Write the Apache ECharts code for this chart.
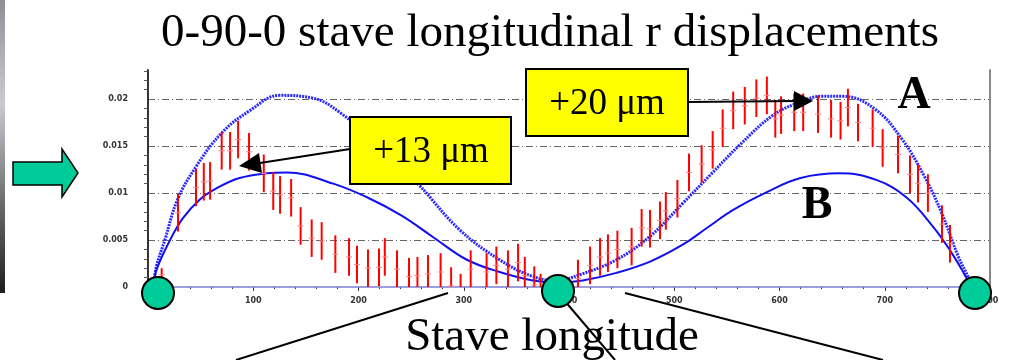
<!DOCTYPE html>
<html>
<head>
<meta charset="utf-8">
<script src="https://cdn.jsdelivr.net/npm/echarts@6/dist/echarts.min.js"></script>
<style>
  html, body { margin: 0; padding: 0; background: #fff; }
  #main { width: 1021px; height: 360px; }
</style>
</head>
<body>
<div id="main"></div>
<script>
// measured points (stave position, r displacement, half error)
const stavePos = [13, 28.5, 45.6, 53, 59, 70, 78, 85.6, 96, 110, 119, 125.5, 136, 145, 155.5, 165, 178, 191, 198.6, 209,
  219.5, 225, 236.6, 248, 256, 266, 278, 288, 297, 306.6, 321.7, 331, 342, 351.6, 358, 367, 373,
  408.5, 420, 429.5, 437, 446, 459.5, 469, 477, 486.5, 492, 503, 514, 526, 536.5, 546, 556, 567, 578, 588,
  596, 601.5, 614, 622.5, 636.6, 649, 658, 665, 674.6, 688.5, 698, 712.6, 724, 731.6, 741, 754.4, 762];
const measured = [0.0013, 0.0079, 0.0106, 0.0112, 0.0113, 0.0145, 0.0145, 0.0157, 0.0144, 0.0121, 0.0102, 0.0098, 0.0095, 0.0065, 0.0052, 0.0049, 0.0035, 0.0032, 0.0024, 0.002,
  0.0021, 0.0032, 0.0019, 0.0011, 0.0012, 0.0014, 0.0016, 0.0001, -0.0006, 0.0019, 0.0016, 0.0023, 0.0019, 0.0026, 0.0012, 0.0002, -0.0006,
  0.0009, 0.0023, 0.0032, 0.0036, 0.004, 0.0043, 0.0063, 0.0062, 0.0071, 0.0081, 0.0094, 0.0122, 0.0131, 0.0146, 0.0169, 0.0188, 0.0193, 0.0201, 0.0204,
  0.0179, 0.0183, 0.0186, 0.0186, 0.0184, 0.0179, 0.0177, 0.0191, 0.0175, 0.0169, 0.0148, 0.0141, 0.012, 0.011, 0.01, 0.0067, 0.0046];
const errHalf = stavePos.map((x, i) => (i === 0 ? 0.0007 : 0.002));

// model curves
const curveA = [[5, 0], [8, 0.0022], [16, 0.005], [28, 0.0093], [45, 0.0127], [70, 0.0164], [97, 0.0188], [125, 0.0204],
  [157, 0.0201], [182, 0.0186], [220, 0.015], [240, 0.0128], [258, 0.0108], [296, 0.0061], [334, 0.0029], [366, 0.0011],
  [389, 0.0007], [410, 0.0013], [445, 0.0029], [477, 0.0054], [508, 0.0089], [534, 0.0119], [562, 0.0151], [594, 0.0183],
  [620, 0.0197], [640, 0.0203], [660, 0.0203], [690, 0.019], [716, 0.0158], [738, 0.0117], [754, 0.0079], [770, 0.0032],
  [779, 0.0011], [782, 0]];
const curveB = [[5, 0], [8, 0.0018], [21, 0.005], [33, 0.0073], [49, 0.0093], [65, 0.0105], [87, 0.0116], [113, 0.0121],
  [132, 0.0122], [176, 0.011], [209, 0.0095], [241, 0.0076], [271, 0.0053], [303, 0.0029], [334, 0.0016], [366, 0.0007],
  [389, 0.0005], [413, 0.0007], [445, 0.0015], [477, 0.0027], [508, 0.0045], [530, 0.0062], [556, 0.0082], [588, 0.0101],
  [620, 0.0116], [657, 0.0121], [692, 0.0114], [721, 0.0095], [746, 0.0064], [762, 0.0039], [775, 0.0015], [782, 0]];
const baseline = [[0, 0], [800, 0]];

const serif = '"Liberation Serif", "Times New Roman", serif';
const green = '#00cc99';

let myChart = echarts.init(document.getElementById('main'));

function circle(cx, cy) {
  return { type: 'circle', z: 100, shape: { cx: cx, cy: cy, r: 16 }, style: { fill: green, stroke: '#000', lineWidth: 2 } };
}
function seg(x1, y1, x2, y2) {
  return { type: 'line', z: 99, shape: { x1: x1, y1: y1, x2: x2, y2: y2 }, style: { stroke: '#000', lineWidth: 2 } };
}

myChart.setOption({
  animation: false,
  grid: { left: 148, right: 31, top: 70, bottom: 73 },
  xAxis: {
    type: 'value',
    min: 0,
    max: 800,
    interval: 100,
    offset: 7,
    axisLine: { show: true, lineStyle: { color: '#888', width: 1.5 } },
    axisTick: { show: true, length: 4, lineStyle: { color: '#333' } },
    minorTick: { show: true, splitNumber: 5, length: 2, lineStyle: { color: '#333' } },
    splitLine: { show: false },
    axisLabel: { fontSize: 8, fontWeight: 'bold', color: '#333', margin: 3, fontFamily: 'DejaVu Sans' }
  },
  yAxis: [
    {
      type: 'value',
      min: 0,
      max: 0.0231,
      interval: 0.005,
      axisLine: { show: true, lineStyle: { color: '#333', width: 2 } },
      axisTick: { show: false },
      minorTick: { show: true, splitNumber: 5, length: 4, lineStyle: { color: '#555' } },
      axisLabel: { fontSize: 8, fontWeight: 'bold', color: '#333', margin: 20, showMaxLabel: false, fontFamily: 'DejaVu Sans' },
      splitLine: {
        show: true, showMinLine: false, showMaxLine: false,
        lineStyle: { color: '#666', width: 1, type: [7, 3, 1, 3] }
      }
    },
    {
      type: 'value',
      min: 0,
      max: 0.0231,
      position: 'right',
      axisLine: { show: true, lineStyle: { color: '#888', width: 2 } },
      axisTick: { show: false },
      axisLabel: { show: false },
      splitLine: { show: false }
    }
  ],
  series: [
    {
      type: 'line',
      data: baseline,
      showSymbol: false,
      lineStyle: { color: '#9999ff', width: 1.5 },
      z: 1
    },
    {
      name: 'A',
      type: 'line',
      data: curveA,
      smooth: 0.4,
      showSymbol: false,
      lineStyle: { color: '#2a2aff', width: 3, type: [2, 1] }
    },
    {
      name: 'B',
      type: 'line',
      data: curveB,
      smooth: 0.4,
      showSymbol: false,
      lineStyle: { color: '#1010ee', width: 2 }
    },
    {
      type: 'custom',
      clip: true,
      data: stavePos.map((x, i) => [x, measured[i], errHalf[i]]),
      encode: { x: 0, y: 1 },
      z: 5,
      renderItem: function (params, api) {
        let x = api.value(0), y = api.value(1), e = api.value(2);
        let top = api.coord([x, y + e]);
        let bot = api.coord([x, y - e]);
        let mid = api.coord([x, y]);
        return {
          type: 'group',
          children: [
            { type: 'line', shape: { x1: top[0], y1: top[1], x2: bot[0], y2: bot[1] }, style: { stroke: '#ff0000', lineWidth: 2 } },
            { type: 'line', shape: { x1: mid[0] - 3, y1: mid[1], x2: mid[0] + 3, y2: mid[1] }, style: { stroke: '#ff8080', lineWidth: 1 } }
          ]
        };
      }
    }
  ],
  graphic: [
    // slide edge
    {
      type: 'rect', z: 50, shape: { x: 0, y: 0, width: 5, height: 293 },
      style: {
        fill: new echarts.graphic.LinearGradient(0, 0, 0, 1, [
          { offset: 0, color: '#8c9096' }, { offset: 0.35, color: '#c8ccd2' },
          { offset: 0.7, color: '#6a6a6a' }, { offset: 1, color: '#1e1e1e' }
        ])
      }
    },
    {
      type: 'text', z: 100,
      style: { text: '0-90-0 stave longitudinal r displacements', x: 550, y: 34, textAlign: 'center', textVerticalAlign: 'middle', font: '47px ' + serif, fill: '#000' }
    },
    {
      type: 'text', z: 98,
      style: { text: 'Stave longitude', x: 552, y: 338, textAlign: 'center', textVerticalAlign: 'middle', font: '47px ' + serif, fill: '#000' }
    },
    seg(236, 360, 448, 293),
    seg(558, 293, 615, 360),
    seg(625, 293, 883, 360),
    // green arrow
    {
      type: 'polygon', z: 100,
      shape: { points: [[13, 162], [62, 162], [62, 149], [78, 173], [62, 197], [62, 185], [13, 185]] },
      style: { fill: green, stroke: '#000', lineWidth: 1.5 }
    },
    circle(158, 293),
    circle(558, 291),
    circle(975, 293),
    // +13 box and arrow
    seg(350, 149, 260, 163),
    { type: 'polygon', z: 100, shape: { points: [[239, 166], [262, 173], [259, 153]] }, style: { fill: '#000' } },
    { type: 'rect', z: 100, shape: { x: 350, y: 117, width: 161, height: 67 }, style: { fill: '#ffff00', stroke: '#000', lineWidth: 2 } },
    { type: 'text', z: 101, style: { text: '+13 μm', x: 431, y: 152, textAlign: 'center', textVerticalAlign: 'middle', font: '37px ' + serif, fill: '#000' } },
    // +20 box and arrow
    seg(688, 102, 796, 101),
    { type: 'polygon', z: 100, shape: { points: [[813, 101], [794, 91], [794, 111]] }, style: { fill: '#000' } },
    { type: 'rect', z: 100, shape: { x: 526, y: 69, width: 162, height: 67 }, style: { fill: '#ffff00', stroke: '#000', lineWidth: 2 } },
    { type: 'text', z: 101, style: { text: '+20 μm', x: 607, y: 104, textAlign: 'center', textVerticalAlign: 'middle', font: '37px ' + serif, fill: '#000' } },
    { type: 'text', z: 101, style: { text: 'A', x: 914, y: 96, textAlign: 'center', textVerticalAlign: 'middle', font: 'bold 46px ' + serif, fill: '#000' } },
    { type: 'text', z: 101, style: { text: 'B', x: 817, y: 206, textAlign: 'center', textVerticalAlign: 'middle', font: 'bold 46px ' + serif, fill: '#000' } }
  ]
});

window.addEventListener('resize', () => {
  myChart.resize();
});
</script>
</body>
</html>
